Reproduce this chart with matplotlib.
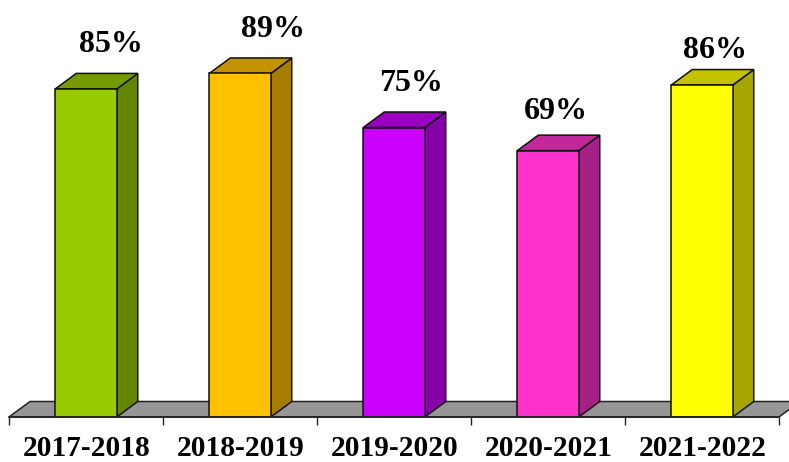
import matplotlib
matplotlib.use('Agg')
import matplotlib.pyplot as plt
from matplotlib.patches import Polygon
from matplotlib.colors import to_rgb

years = ['2017-2018', '2018-2019', '2019-2020', '2020-2021', '2021-2022']
values = [85, 89, 75, 69, 86]
colors = ['#99CC00', '#FFC000', '#CC00FF', '#FF33CC', '#FFFF00']

W, H = 789, 462
# label offsets from the front top-centre of each bar, in pixels
label_dx = [25, 33, 17, 8, 13]
label_dy = [44, 44, 44, 39, 35]

plt.rcParams['font.family'] = ['Liberation Serif', 'DejaVu Serif']
fig = plt.figure(figsize=(W / 100, H / 100), dpi=100)

# plot area in pixels: x 9..779, baseline at y=417, 3.86 px per percent
left, right, base = 9, 779, 417
px_per_unit = 3.86
ymax = 100
ax = fig.add_axes([left / W, 1 - base / H, (right - left) / W, ymax * px_per_unit / H])
ax.set_xlim(-0.5, 4.5)
ax.set_ylim(0, ymax)
ax.patch.set_alpha(0)

px_x = 5 / (right - left)   # data units per pixel along x
dx = 21 * px_x
dy = 15.5 / px_per_unit
bar_w = 61.5 * px_x
edge = '#111111'
lw = 1.1


def shade(c, f):
    return tuple(v * f for v in to_rgb(c))


# floor
ax.add_patch(Polygon([(-0.5, 0), (-0.5 + dx, dy), (4.5 + dx, dy), (4.5, 0)],
                     facecolor='#969696', edgecolor='#222222', lw=lw, clip_on=False, zorder=1))

for i, (v, c) in enumerate(zip(values, colors)):
    l, r = i - bar_w / 2, i + bar_w / 2
    ax.add_patch(Polygon([(r, 0), (r + dx, dy), (r + dx, v + dy), (r, v)],
                         facecolor=shade(c, 0.65), edgecolor=edge, lw=lw, clip_on=False, zorder=2))
    ax.add_patch(Polygon([(l, v), (l + dx, v + dy), (r + dx, v + dy), (r, v)],
                         facecolor=shade(c, 0.76), edgecolor=edge, lw=lw, clip_on=False, zorder=2))
    ax.bar(i, v, width=bar_w, color=c, edgecolor=edge, linewidth=lw, zorder=3)
    ax.annotate(f'{v}%', (i, v), xytext=(label_dx[i] * 0.72, label_dy[i] * 0.72),
                textcoords='offset points', ha='center', va='center',
                fontsize=23, fontweight='bold', color='black', annotation_clip=False)

for s in ['top', 'left', 'right']:
    ax.spines[s].set_visible(False)
ax.spines['bottom'].set_linewidth(1.2)
ax.spines['bottom'].set_color('#222222')
ax.spines['bottom'].set_zorder(4)
ax.set_yticks([])
ax.set_xticks([-0.5, 0.5, 1.5, 2.5, 3.5, 4.5])
ax.set_xticklabels([])
ax.tick_params(axis='x', which='major', length=6, width=1.0, color='#222222')
ax.set_xticks([i + px_x for i in range(5)], years, minor=True)
ax.tick_params(axis='x', which='minor', length=0, pad=13, labelsize=21.2)
for t in ax.get_xticklabels(minor=True):
    t.set_fontweight('bold')

fig.savefig('out.png', dpi=100)
